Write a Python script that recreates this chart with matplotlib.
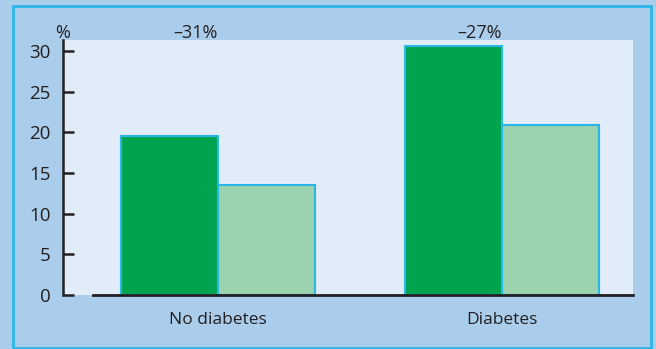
import matplotlib.pyplot as plt
from matplotlib.patches import Rectangle

# Event rate per group, before and after treatment (%)
groups = ["No diabetes", "Diabetes"]
before = [19.6, 30.6]
after = [13.5, 20.9]
changes = ["–31%", "–27%"]
y_ticks = [0, 5, 10, 15, 20, 25, 30]

dark_green = "#00a34e"
light_green = "#9bd3ae"
edge_blue = "#2bb5e8"
outer_bg = "#abcdec"
inner_bg = "#e0ecf8"
ink = "#231f20"

plt.rcParams["font.family"] = ["Open Sans", "DejaVu Sans"]

fig = plt.figure(figsize=(6.56, 3.49), dpi=100, facecolor=outer_bg)

# outer frame
fig.patches.append(
    Rectangle((13 / 656, 1 / 349), 638 / 656, 342 / 349, transform=fig.transFigure,
              facecolor="none", edgecolor=edge_blue, linewidth=2)
)

ax = fig.add_axes([63 / 656, 54 / 349, 570 / 656, 255 / 349])
ax.set_facecolor(inner_bg)

w = 0.342
xs = list(range(len(groups)))
ax.bar([x - w / 2 for x in xs], before, width=w, color=dark_green,
       edgecolor=edge_blue, linewidth=1.5, zorder=2)
ax.bar([x + w / 2 for x in xs], after, width=w, color=light_green,
       edgecolor=edge_blue, linewidth=1.5, zorder=2)

ax.set_xlim(-0.546, 1.461)
ax.set_ylim(0, 31.35)

# baseline starts a little right of the y axis
ax.plot([-0.44, 1.461], [0, 0], color=ink, linewidth=2, zorder=3, clip_on=False)

for s in ["top", "right", "bottom"]:
    ax.spines[s].set_visible(False)
ax.spines["left"].set_color(ink)
ax.spines["left"].set_linewidth(1.8)

ax.set_yticks(y_ticks)
ax.tick_params(axis="y", direction="in", length=8, width=1.8, color=ink,
               labelsize=13.5, labelcolor=ink, pad=9)
ax.set_xticks(xs)
ax.set_xticklabels(groups)
ax.tick_params(axis="x", length=0, labelsize=12.5, labelcolor=ink, pad=12)

for x, label in zip(xs, changes):
    ax.text(x - 0.08, 31.6, label, ha="center", va="baseline", fontsize=13,
            color=ink, clip_on=False)
ax.text(-0.546, 31.6, "%", ha="center", va="baseline", fontsize=13, color=ink,
        clip_on=False)

fig.savefig("out.png", dpi=100, facecolor=outer_bg)
